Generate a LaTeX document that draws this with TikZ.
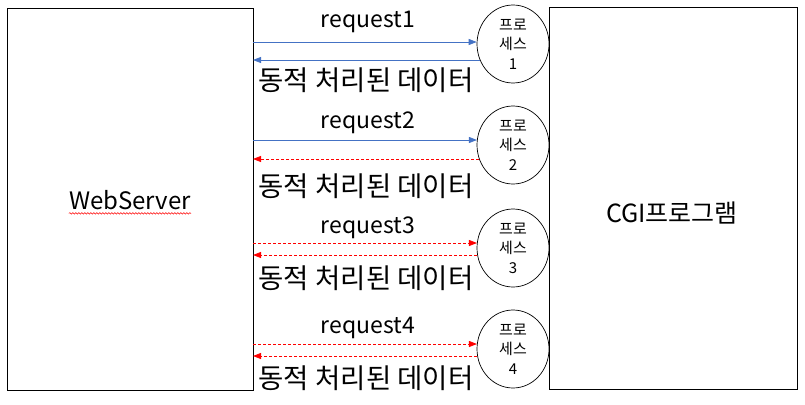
\documentclass[tikz,border=0pt]{standalone}
\usepackage{fontspec}
\setmainfont{Noto Sans CJK KR}
\usetikzlibrary{arrows.meta,shapes.geometric,decorations.pathmorphing}
\definecolor{bleuFleche}{RGB}{68,114,196}
\begin{document}
\begin{tikzpicture}[x=1pt,y=-1pt,
    boite/.style={draw,line width=0.8pt,inner sep=0,minimum width=#1,minimum height=382},
    processus/.style={draw,ellipse,fill=white,line width=0.7pt,inner sep=0,minimum width=72,minimum height=78,align=center,font=\fontsize{15}{19.5}\selectfont},
    grand/.style={font=\fontsize{23}{26}\selectfont,inner sep=0},
    coreen/.style={font=\fontsize{27.5}{30}\selectfont,inner sep=0},
    fleche/.style={-{Triangle[length=8pt,width=6pt]},line width=0.8pt},
    bleu/.style={fleche,bleuFleche},
    rouge/.style={fleche,red,dash pattern=on 3pt off 2pt}]
    \useasboundingbox (0,0) rectangle (805,404);
    \node[boite=246] (web) at (130,199) {};
    \node[boite=248] (cgi) at (673,198.5) {};
    \node[grand,font=\fontsize{24}{26}\selectfont] (ws) at (130,200) {WebServer};
    \node[grand,font=\fontsize{25}{26}\selectfont] (prog) at (672,213) {CGI프로그램};
    \draw[red,line width=0.5pt,decorate,decoration={snake,amplitude=0.8pt,segment length=3pt}]
        ([yshift=-4pt]ws.base west) -- ([yshift=-4pt]ws.base east);%soulignement
    \foreach \i/\c/\a/\b/\ta/\tb/\sa/\sb/\angA/\angB in {
        1/44/42/60/22/80/bleu/bleu/177/206,
        2/145/140/159/123/186/bleu/rouge/172/203,
        3/248/243/255/228/278/rouge/rouge/172/191,
        4/349/344/356/328/378/rouge/rouge/172/191}{
        \node[processus] (p\i) at (513,\c) {프로\\세스\\\i};
        \node[grand] (req\i) at (368,\ta) {request\i};
        \node[coreen] (rep\i) at (366,\tb) {동적 처리된 데이터};
        \coordinate (q\i) at (253,\a);
        \coordinate (r\i) at (253,\b);
        \draw[\sa] (q\i) -- (p\i.\angA |- q\i);
        \draw[\sb] (p\i.\angB |- r\i) -- (r\i);
    }
\end{tikzpicture}
\end{document}
